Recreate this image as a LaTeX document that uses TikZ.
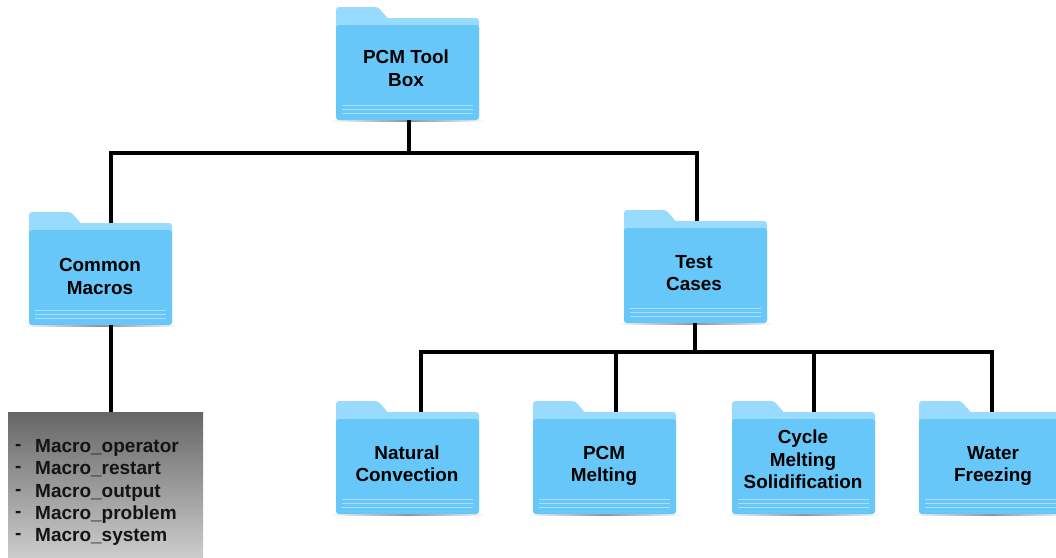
\documentclass[tikz,border=0pt]{standalone}
\usepackage{fontspec}
\setmainfont{Liberation Sans}
\definecolor{folderfront}{HTML}{66C7F8}
\definecolor{folderback}{HTML}{99DBFF}
\definecolor{folderline}{HTML}{A6E0FC}
\tikzset{
  folderback/.style={fill=folderback,rounded corners=3pt,minimum width=143pt,minimum height=102pt,inner sep=0pt,outer sep=0pt},
  folderfront/.style={fill=folderfront,rounded corners=3pt},
  stripe/.style={draw=folderline,line width=1pt},
  foldershadow/.style={left color=white,right color=white,middle color=black!45,draw=none},
  foldertext/.style={font=\fontsize{18.9pt}{22.5pt}\selectfont\bfseries,align=center,text=black,inner sep=0pt},
  conn/.style={draw=black,line width=3.4pt,line cap=butt,line join=miter},
  macrotext/.style={font=\fontsize{19pt}{22pt}\selectfont\bfseries,anchor=base west,inner sep=0pt,text=black!92},
  macrobox/.style={top color=black!60,bottom color=black!20,draw=none,minimum width=195pt,minimum height=145pt,inner sep=0pt,outer sep=0pt}
}
% #1 name, #2 left x, #3 tab top y, #4 text centre x, #5 text centre y, #6 text
\newcommand{\foldericon}[6]{%
  \shade[foldershadow] (#2-7,#3+113) rectangle (#2+150,#3+114.2);
  \node[folderback] (#1) at (#2+71.5,#3+62) {};
  \fill[folderback,rounded corners=3pt] (#2,#3+30) -- (#2,#3) -- (#2+42,#3) -- (#2+52,#3+11.5) -- (#2+62,#3+22.5) -- (#2+20,#3+30) -- cycle;
  \fill[folderfront] (#2,#3+113) -- (#2,#3+18) -- (#2+143,#3+18) -- (#2+143,#3+113) -- cycle;
  \draw[stripe] (#2+6,#3+98) -- (#2+137,#3+98);
  \draw[stripe] (#2+6,#3+102) -- (#2+137,#3+102);
  \draw[stripe] (#2+6,#3+106) -- (#2+137,#3+106);
  \node[foldertext] (#1-label) at (#4,#5) {#6};
}
\begin{document}
\begin{tikzpicture}[x=1pt,y=-1pt]
\clip (0,0) rectangle (1056,557);
\fill[white] (0,0) rectangle (1056,557);

\foldericon{root}{336}{7}{406}{68}{PCM Tool\\Box}
\foldericon{common}{29}{212}{100}{276.5}{Common\\Macros}
\foldericon{test}{624}{210}{694}{273}{Test\\Cases}
\foldericon{natural}{336}{401}{407}{463.5}{Natural\\Convection}
\foldericon{melting}{533}{401}{604}{466}{PCM\\Melting}
\foldericon{cycle}{732}{401}{803}{459.5}{Cycle\\Melting\\Solidification}
\foldericon{water}{919}{401}{993}{466}{Water\\Freezing}

\node[macrobox] (macros) at (105.5,484.5) {};
\node[macrotext] (d1) at (15,450) {-};
\node[macrotext] (d2) at (15,472) {-};
\node[macrotext] (d3) at (15,495) {-};
\node[macrotext] (d4) at (15,517) {-};
\node[macrotext] (d5) at (15,539) {-};
\node[macrotext] (m1) at (35,452) {Macro\_operator};
\node[macrotext] (m2) at (35,474) {Macro\_restart};
\node[macrotext] (m3) at (35,497) {Macro\_output};
\node[macrotext] (m4) at (35,519) {Macro\_problem};
\node[macrotext] (m5) at (35,541) {Macro\_system};

\coordinate (bustop) at (409,153);
\coordinate (buslow) at (695,352);
\draw[conn] ([xshift=1.5pt]root.south) -- (bustop);
\draw[conn] ([xshift=10.5pt]common.north) |- (bustop) -| ([xshift=1.5pt]test.north);
\draw[conn] ([xshift=-0.5pt]test.south) -- (buslow);
\draw[conn] ([xshift=13.5pt]natural.north) |- (buslow) -| ([xshift=1.5pt]water.north);
\draw[conn] ([xshift=11.5pt]melting.north) -- ++(0,-60);
\draw[conn] ([xshift=10.5pt]cycle.north) -- ++(0,-60);
\draw[conn] ([xshift=10.5pt]common.south) -- ([xshift=5.5pt]macros.north);
\end{tikzpicture}
\end{document}
